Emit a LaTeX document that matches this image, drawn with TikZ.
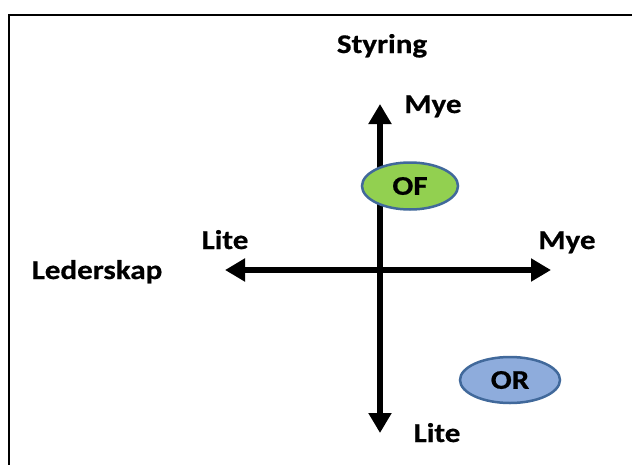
\documentclass[tikz,border=0pt]{standalone}
\usepackage{fontspec}
\setmainfont{Carlito}[FakeStretch=1.15,BoldFeatures={FakeBold=0.6}]
\usetikzlibrary{arrows.meta,shapes.geometric}
\definecolor{ofgreen}{RGB}{146,208,80}
\definecolor{orblue}{RGB}{142,172,220}
\definecolor{edgeblue}{RGB}{65,105,155}
\tikzset{
  lbl/.style={font=\bfseries\fontsize{27}{32}\selectfont, inner sep=0pt, anchor=base},
  axis/.style={line width=6pt, -{Triangle[length=20pt,width=22pt]}},
  oval/.style={ellipse, draw=edgeblue, line width=2.5pt, minimum width=96pt, minimum height=47pt, inner sep=0pt, font=\bfseries\fontsize{27}{32}\selectfont}
}
\begin{document}
\begin{tikzpicture}[x=1pt,y=-1pt]
\useasboundingbox (0,0) rectangle (632,464);
\fill[white] (0,0) rectangle (632,464);
\draw[line width=2pt] (9,466) -- (9,15) -- (634,15);
\coordinate (c) at (380,270);
\coordinate (top) at (380,104);
\coordinate (bot) at (380,433);
\coordinate (lft) at (225,270);
\coordinate (rgt) at (551,270);
\draw[axis] (c) -- (top);
\draw[axis] (c) -- (bot);
\draw[axis] (c) -- (lft);
\draw[axis] (c) -- (rgt);
\node[lbl] (styring) at (382,53) {Styring};
\node[lbl] (myetop) at (433,113) {Mye};
\node[lbl] (litel) at (225,249) {Lite};
\node[lbl] (myer) at (567,249) {Mye};
\node[lbl] (leder) at (97,279) {Lederskap};
\node[lbl] (liteb) at (437,442) {Lite};
\node[oval, fill=ofgreen] (of) at (410,186) {OF};
\node[oval, fill=orblue, minimum width=100pt, minimum height=46pt] (or) at (510,380) {OR};
\end{tikzpicture}
\end{document}
